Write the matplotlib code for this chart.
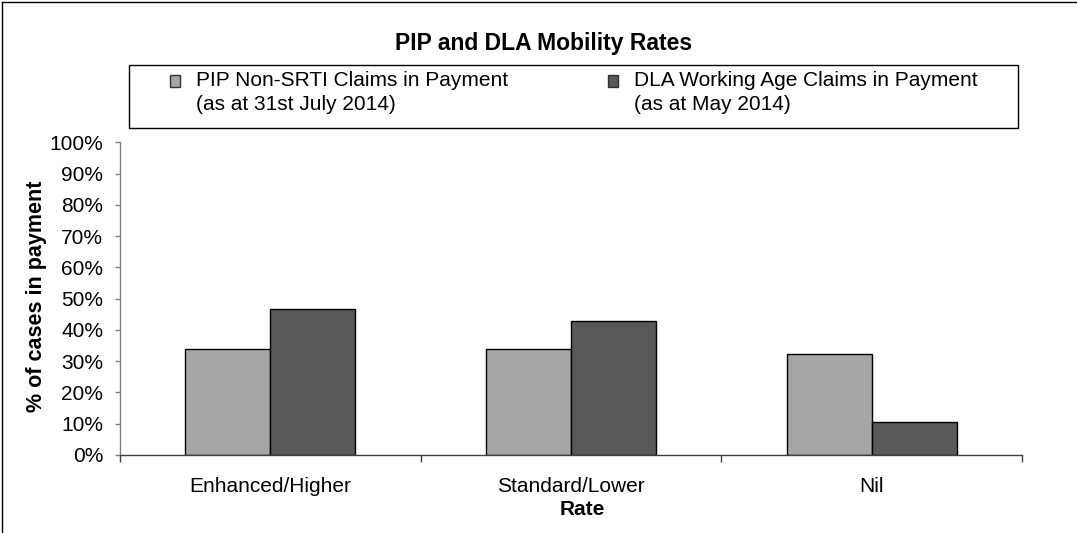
import matplotlib
matplotlib.use("Agg")
import matplotlib.pyplot as plt
from matplotlib.patches import Patch, Rectangle
from matplotlib.legend_handler import HandlerPatch
from matplotlib.lines import Line2D
import numpy as np

plt.rcParams["font.family"] = ["Liberation Sans", "DejaVu Sans"]

# Dados
categorias = ["Enhanced/Higher", "Standard/Lower", "Nil"]
pip_valores = [34, 34, 32.3]
dla_valores = [46.7, 42.8, 10.7]
series = ["PIP Non-SRTI Claims in Payment\n(as at 31st July 2014)",
          "DLA Working Age Claims in Payment\n(as at May 2014)"]
y_ticks = [0, 10, 20, 30, 40, 50, 60, 70, 80, 90, 100]

W, H = 1077, 533
fig = plt.figure(figsize=(W / 100, H / 100), dpi=100)
ax = fig.add_axes([120 / W, 78 / H, 902 / W, 312.7 / H])

cor_pip = "#a6a6a6"
cor_dla = "#585858"
larg = 0.283
x = np.arange(len(categorias))
ax.bar(x - larg / 2, pip_valores, larg, color=cor_pip, edgecolor="black", linewidth=1.0)
ax.bar(x + larg / 2, dla_valores, larg, color=cor_dla, edgecolor="black", linewidth=1.0)

ax.set_xlim(-0.5, len(categorias) - 0.5)
ax.set_ylim(0, 100)
ax.set_yticks(y_ticks)
ax.set_yticklabels([f"{v}%" for v in y_ticks], fontsize=15)
ax.tick_params(axis="y", length=3.6, width=1, color="#808080", pad=8.5)

# ticks nas fronteiras das categorias, rótulos no centro
ax.set_xticks(np.arange(len(categorias) + 1) - 0.5)
ax.set_xticklabels([])
ax.tick_params(axis="x", which="major", length=5, width=1, color="#404040")
ax.set_xticks(x, minor=True)
ax.set_xticklabels(categorias, minor=True, fontsize=15)
ax.tick_params(axis="x", which="minor", length=0, pad=16)

for s in ["top", "right"]:
    ax.spines[s].set_visible(False)
ax.spines["left"].set_color("#808080")
ax.spines["bottom"].set_color("#404040")
ax.spines["left"].set_linewidth(1)
ax.spines["bottom"].set_linewidth(1)

ax.set_xlabel("Rate", fontsize=15, fontweight="bold")
ax.xaxis.set_label_coords((582 - 120) / 902, -(500 - 455) / 312.7)
ax.set_ylabel("% of cases in payment", fontsize=15.5, fontweight="bold", va="center")
ax.yaxis.set_label_coords((37 - 120) / 902, (455 - 296) / 312.7)

fig.text(544 / W, 1 - 43 / H, "PIP and DLA Mobility Rates", ha="center", va="center",
         fontsize=16.5, fontweight="bold")


# marcador alinhado com a primeira linha do texto
def marcador(legend, orig_handle, xdescent, ydescent, width, height, fontsize):
    return Rectangle((-xdescent, -ydescent + 0.55 * fontsize), width, height)


# Caixa da legenda
fig.add_artist(Rectangle((129 / W, 1 - 128 / H), (1018 - 129) / W, (128 - 65) / H,
                         transform=fig.transFigure, fill=False, edgecolor="black",
                         linewidth=1))
for cor, nome, xpos in [(cor_pip, series[0], 170), (cor_dla, series[1], 608)]:
    h = Patch(facecolor=cor, edgecolor="#333333", linewidth=1)
    leg = fig.legend(handles=[h], labels=[nome], loc="upper left",
                     bbox_to_anchor=(xpos / W, 1 - 71 / H), frameon=False, fontsize=15,
                     borderpad=0, borderaxespad=0, handlelength=0.5, handleheight=0.5,
                     handletextpad=0.75, labelspacing=0,
                     handler_map={Patch: HandlerPatch(patch_func=marcador)})
    for t in leg.get_texts():
        t.set_linespacing(1.3)

# Borda da figura
fig.add_artist(Line2D([2 / W, 2 / W], [0, 1 - 1.5 / H], color="black", linewidth=1))
fig.add_artist(Line2D([2 / W, 1], [1 - 1.5 / H, 1 - 1.5 / H], color="black", linewidth=1))

plt.savefig("out.png", dpi=100)
plt.close()
